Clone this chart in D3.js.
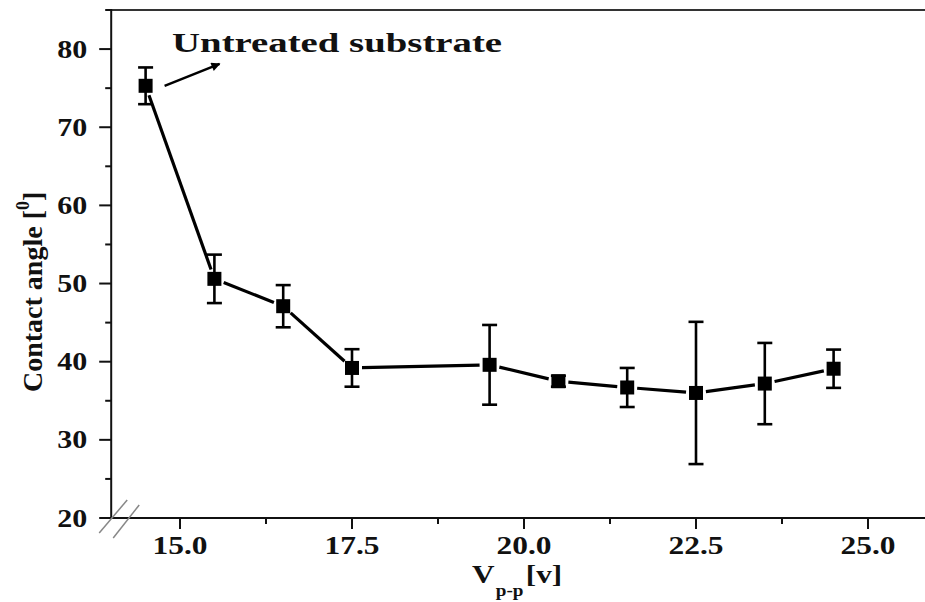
<!DOCTYPE html>
<html>
<head>
<meta charset="utf-8">
<script src="https://cdn.jsdelivr.net/npm/d3@7"></script>
<style>
  html, body { margin: 0; padding: 0; background: #fff; }
  svg { display: block; }
  text { font-family: "Liberation Serif", "Times New Roman", serif; font-weight: bold; fill: #111; }
</style>
</head>
<body>
<div id="chart"></div>
<script>
// ---- data ----
const voltages = [14.5, 15.5, 16.5, 17.5, 19.5, 20.5, 21.5, 22.5, 23.5, 24.5];
const contactAngles = [75.3, 50.6, 47.1, 39.2, 39.6, 37.5, 36.7, 36.0, 37.2, 39.1];
const angleErrors = [2.35, 3.1, 2.7, 2.4, 5.1, 0.7, 2.5, 9.1, 5.2, 2.45];
const xTickValues = [15, 17.5, 20, 22.5, 25];
const xTickLabels = ["15.0", "17.5", "20.0", "22.5", "25.0"];
const xMinorTicks = [16.25, 18.75, 21.25, 23.75];
const yTickValues = [20, 30, 40, 50, 60, 70, 80];
const yTickLabels = ["20", "30", "40", "50", "60", "70", "80"];
const yMinorTicks = [25, 35, 45, 55, 65, 75, 85];
const annotationText = "Untreated substrate";
const yTitle = "Contact angle [";
const ySuper = "0";
const xTitleMain = "V";
const xTitleSub = "p-p";
const xTitleUnit = "[v]";

// ---- layout ----
const W = 925, H = 602;
const plotLeft = 111.2, plotTop = 10, plotBottom = 518;

const x = d3.scaleLinear().domain([14, 26]).range([plotLeft, plotLeft + 12 * 68.8]);
const y = d3.scaleLinear().domain([20, 85]).range([plotBottom, plotTop]);

const svg = d3.select("#chart").append("svg").attr("width", W).attr("height", H);

// top frame line
svg.append("line").attr("x1", plotLeft).attr("x2", W).attr("y1", plotTop).attr("y2", plotTop)
  .attr("stroke", "#333").attr("stroke-width", 2);

// x axis
const xAxis = svg.append("g").attr("transform", `translate(0,${plotBottom})`);
xAxis.append("line").attr("x1", plotLeft - 1).attr("x2", W).attr("stroke", "#111").attr("stroke-width", 2);
xAxis.selectAll(".xmaj").data(xTickValues).join("line")
  .attr("x1", d => x(d)).attr("x2", d => x(d)).attr("y1", 0).attr("y2", 11)
  .attr("stroke", "#111").attr("stroke-width", 2);
xAxis.selectAll(".xmin").data(xMinorTicks).join("line")
  .attr("x1", d => x(d)).attr("x2", d => x(d)).attr("y1", 0).attr("y2", 6)
  .attr("stroke", "#111").attr("stroke-width", 2);
xAxis.selectAll(".xlab").data(xTickValues).join("text")
  .attr("x", d => x(d) - 27.5).attr("y", 36)
  .attr("font-size", 25)
  .attr("textLength", 55).attr("lengthAdjust", "spacingAndGlyphs")
  .text((d, i) => xTickLabels[i]);

// y axis
const yAxis = svg.append("g").attr("transform", `translate(${plotLeft},0)`);
yAxis.append("line").attr("y1", plotTop - 1).attr("y2", plotBottom + 1).attr("stroke", "#111").attr("stroke-width", 2);
yAxis.selectAll(".ymaj").data(yTickValues).join("line")
  .attr("x1", -12).attr("x2", 0).attr("y1", d => y(d)).attr("y2", d => y(d))
  .attr("stroke", "#111").attr("stroke-width", 2);
yAxis.selectAll(".ymin").data(yMinorTicks).join("line")
  .attr("x1", -6).attr("x2", 0).attr("y1", d => y(d)).attr("y2", d => y(d))
  .attr("stroke", "#111").attr("stroke-width", 2);
yAxis.selectAll(".ylab").data(yTickValues).join("text")
  .attr("x", -54).attr("y", d => y(d) + 8.5)
  .attr("font-size", 25)
  .attr("textLength", 30).attr("lengthAdjust", "spacingAndGlyphs")
  .text((d, i) => yTickLabels[i]);

// axis break marks
const brk = svg.append("g").attr("stroke", "#888").attr("stroke-width", 1.5);
brk.append("line").attr("x1", plotLeft - 12).attr("y1", plotBottom + 15).attr("x2", plotLeft + 16).attr("y2", plotBottom - 18);
brk.append("line").attr("x1", plotLeft + 2).attr("y1", plotBottom + 20).attr("x2", plotLeft + 28).attr("y2", plotBottom - 13);

// connecting line with gaps at markers
const pts = voltages.map((v, i) => [x(v), y(contactAngles[i])]);
const gap = 10;
const segs = d3.pairs(pts).map(([a, b]) => {
  const dx = b[0] - a[0], dy = b[1] - a[1], L = Math.hypot(dx, dy);
  const ux = dx / L, uy = dy / L;
  return [a[0] + ux * gap, a[1] + uy * gap, b[0] - ux * gap, b[1] - uy * gap];
});
svg.append("g").selectAll("line").data(segs).join("line")
  .attr("x1", d => d[0]).attr("y1", d => d[1]).attr("x2", d => d[2]).attr("y2", d => d[3])
  .attr("stroke", "#000").attr("stroke-width", 3.2).attr("stroke-linecap", "butt");

// error bars
const eb = svg.append("g").attr("stroke", "#000").attr("stroke-width", 2.6);
voltages.forEach((v, i) => {
  const cx = x(v), y1 = y(contactAngles[i] + angleErrors[i]), y2 = y(contactAngles[i] - angleErrors[i]);
  eb.append("line").attr("x1", cx).attr("x2", cx).attr("y1", y1).attr("y2", y2);
  eb.append("line").attr("x1", cx - 7.5).attr("x2", cx + 7.5).attr("y1", y1).attr("y2", y1);
  eb.append("line").attr("x1", cx - 7.5).attr("x2", cx + 7.5).attr("y1", y2).attr("y2", y2);
});

// markers
svg.append("g").selectAll("rect").data(voltages).join("rect")
  .attr("x", d => x(d) - 7).attr("y", (d, i) => y(contactAngles[i]) - 7)
  .attr("width", 14).attr("height", 14).attr("fill", "#000");

// annotation
svg.append("defs").append("marker").attr("id", "ah")
  .attr("viewBox", "0 0 10 10").attr("refX", 9).attr("refY", 5)
  .attr("markerWidth", 14).attr("markerHeight", 9).attr("orient", "auto").attr("markerUnits", "userSpaceOnUse")
  .append("path").attr("d", "M0,0 L10,5 L0,10 Z").attr("fill", "#000");
svg.append("line")
  .attr("x1", x(voltages[0]) + 19).attr("y1", y(contactAngles[0]))
  .attr("x2", x(voltages[0]) + 74).attr("y2", y(contactAngles[0]) - 22)
  .attr("stroke", "#000").attr("stroke-width", 2.4).attr("marker-end", "url(#ah)");
svg.append("text")
  .attr("x", x(voltages[0]) + 26.5).attr("y", 52)
  .attr("font-size", 28)
  .attr("textLength", 330).attr("lengthAdjust", "spacingAndGlyphs")
  .text(annotationText);

// y title
const yt = svg.append("text").attr("transform", "translate(42,392) rotate(-90)")
  .attr("font-size", 28);
yt.append("tspan").text(yTitle);
yt.append("tspan").attr("font-size", 18).attr("dy", -13).text(ySuper);
yt.append("tspan").attr("dy", 13).text("]");

// x title
const xt = svg.append("text").attr("x", 472).attr("y", 583).attr("font-size", 26)
  .attr("transform", "translate(472,583) scale(1.2,1) translate(-472,-583)");
xt.append("tspan").text(xTitleMain);
xt.append("tspan").attr("font-size", 16).attr("dy", 13).attr("dx", 1).text(xTitleSub);
xt.append("tspan").attr("dy", -13).attr("dx", 2).text(xTitleUnit);
</script>
</body>
</html>
